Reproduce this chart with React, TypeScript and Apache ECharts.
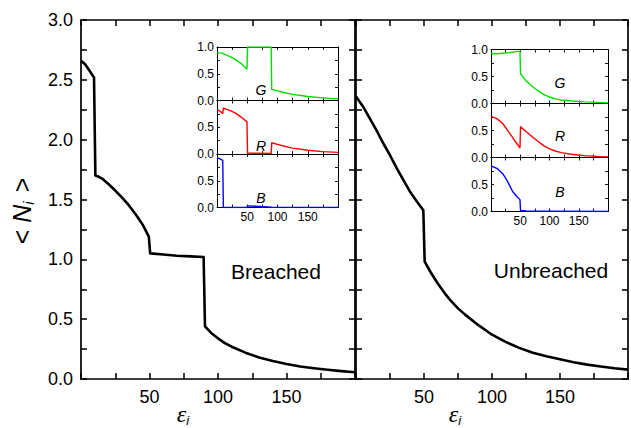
import React, { useEffect, useRef } from "react";
import * as echarts from "echarts";

// ---- data ----
const xTicks = [50, 100, 150];
const panelTitles = ["Breached", "Unbreached"];
const insetLetters = ["G", "R", "B"];

const breachedTotal: [number, number][] = [
  [0, 2.66], [3, 2.63], [6, 2.58], [9.5, 2.52], [10.5, 1.7], [13, 1.69], [16, 1.67], [20, 1.63],
  [25, 1.575], [30, 1.515], [35, 1.45], [40, 1.375], [45, 1.29], [49.5, 1.19], [50.5, 1.05],
  [60, 1.04], [70, 1.03], [80, 1.025], [89.5, 1.02], [90.5, 0.44], [95, 0.385], [100, 0.34],
  [105, 0.3], [110, 0.27], [120, 0.22], [130, 0.18], [140, 0.15], [150, 0.125], [160, 0.105],
  [170, 0.09], [180, 0.077], [190, 0.066], [200, 0.057],
];
const unbreachedTotal: [number, number][] = [
  [0, 2.36], [5, 2.28], [10, 2.18], [15, 2.08], [20, 1.97], [25, 1.87], [30, 1.76],
  [35, 1.66], [40, 1.56], [45, 1.48], [49.5, 1.41], [50.5, 0.98], [55, 0.89], [60, 0.8],
  [65, 0.72], [70, 0.65], [75, 0.59], [80, 0.54], [90, 0.45], [100, 0.37], [110, 0.31],
  [120, 0.26], [130, 0.22], [140, 0.19], [150, 0.165], [160, 0.14], [170, 0.12],
  [180, 0.105], [190, 0.09], [200, 0.078],
];

const breachedG: [number, number][] = [
  [0, 0.89], [9.5, 0.885], [10.5, 0.87], [20, 0.83], [30, 0.77], [40, 0.69], [49.5, 0.59],
  [50.5, 1.0], [89.5, 1.0], [90.5, 0.21], [100, 0.18], [110, 0.15], [125, 0.115],
  [150, 0.075], [175, 0.05], [200, 0.03],
];
const breachedR: [number, number][] = [
  [0, 0.83], [5, 0.8], [9.5, 0.76], [10.5, 0.855], [20, 0.82], [30, 0.77], [40, 0.69],
  [49.5, 0.6], [50.5, 0.02], [60, 0.015], [89.5, 0.01], [90.5, 0.21], [100, 0.18],
  [110, 0.15], [125, 0.11], [150, 0.07], [175, 0.045], [200, 0.03],
];
const breachedB: [number, number][] = [
  [0, 0.93], [5, 0.91], [9.5, 0.88], [10.5, 0.0], [49.5, 0.0], [50.5, 0.03], [70, 0.02],
  [90, 0.005], [200, 0.0],
];
const unbreachedG: [number, number][] = [
  [0, 0.925], [10, 0.92], [20, 0.93], [30, 0.94], [40, 0.955], [49.5, 0.97], [50.5, 0.55],
  [60, 0.42], [70, 0.32], [80, 0.24], [90, 0.17], [100, 0.12], [110, 0.085], [120, 0.065],
  [140, 0.045], [160, 0.03], [180, 0.02], [200, 0.012],
];
const unbreachedR: [number, number][] = [
  [0, 0.76], [10, 0.72], [20, 0.63], [30, 0.48], [40, 0.32], [49.5, 0.18], [50.5, 0.57],
  [60, 0.48], [70, 0.39], [80, 0.3], [90, 0.22], [100, 0.16], [110, 0.12], [120, 0.09],
  [140, 0.055], [160, 0.035], [180, 0.02], [200, 0.012],
];
const unbreachedB: [number, number][] = [
  [0, 0.845], [10, 0.8], [20, 0.7], [25, 0.62], [30, 0.52], [37, 0.37], [45, 0.27],
  [49.5, 0.22], [50.5, 0.02], [60, 0.01], [100, 0.005], [200, 0.0],
];

const FONT = "'Liberation Sans', Arial, sans-serif";

type PanelOpts = {
  showX: boolean;
  showYLabels: boolean;
  yTop: boolean;
  font: number;
  tick: number;
  lw: number;
  yMax: number;
  yInterval: number;
};

function buildAxes(g: number, o: PanelOpts) {
  const line = { show: true, onZero: false, lineStyle: { color: "#000", width: o.lw } };
  const tick = { show: true, inside: true, length: o.tick, lineStyle: { color: "#000", width: o.lw * 0.9 } };
  const xb = {
    type: "value", gridIndex: g, position: "bottom", min: 0, max: 200, interval: 25,
    axisLine: line, axisTick: tick, splitLine: { show: false },
    axisLabel: {
      show: o.showX, fontFamily: FONT, fontSize: o.font, color: "#000", margin: o.font > 14 ? 9 : 3,
      formatter: (v: number) => (xTicks.includes(v) ? String(v) : ""),
    },
  };
  const xt = { ...xb, position: "top", axisLabel: { show: false } };
  const yl = {
    type: "value", gridIndex: g, position: "left", min: 0, max: o.yMax, interval: o.yInterval,
    axisLine: line, axisTick: tick, splitLine: { show: false },
    axisLabel: {
      show: o.showYLabels, fontFamily: FONT, fontSize: o.font, color: "#000", margin: o.font > 14 ? 8 : 3,
      formatter: (v: number) => {
        const r = Math.round(v * 100) / 100;
        if (Math.abs(r * 2 - Math.round(r * 2)) > 1e-6) return "";
        if (!o.yTop && r >= 1) return "";
        return r.toFixed(1);
      },
    },
  };
  const yr = { ...yl, position: "right", axisLabel: { show: false } };
  return { x: [xb, xt], y: [yl, yr] };
}

export default function App() {
  const ref = useRef<HTMLDivElement>(null);
  useEffect(() => {
    document.body.style.margin = "0";
    const chart = echarts.init(ref.current!, null, { renderer: "svg" });

    const grids: any[] = [
      { left: 81, top: 20, width: 274, height: 359 },
      { left: 356, top: 20, width: 276, height: 359 },
      { left: 217, top: 47, width: 121, height: 53.5 },
      { left: 217, top: 100.5, width: 121, height: 53.5 },
      { left: 217, top: 154, width: 121, height: 53.5 },
      { left: 491, top: 49.5, width: 117, height: 54 },
      { left: 491, top: 103.5, width: 117, height: 54 },
      { left: 491, top: 157.5, width: 117, height: 54 },
    ];
    const mainO = (showY: boolean): PanelOpts => ({
      showX: true, showYLabels: showY, yTop: true, font: 18, tick: 6, lw: 1.7, yMax: 3, yInterval: 0.25,
    });
    const insetO = (pos: number): PanelOpts => ({
      showX: pos === 2, showYLabels: true, yTop: pos === 0, font: 12, tick: 3, lw: 1, yMax: 1, yInterval: 0.25,
    });
    const opts: PanelOpts[] = [
      mainO(true), mainO(false),
      insetO(0), insetO(1), insetO(2), insetO(0), insetO(1), insetO(2),
    ];
    const xAxis: any[] = [];
    const yAxis: any[] = [];
    opts.forEach((o, g) => {
      const a = buildAxes(g, o);
      xAxis.push(...a.x);
      yAxis.push(...a.y);
    });

    const colors = ["#00e000", "#ff0000", "#0000ff"];
    const insetData = [breachedG, breachedR, breachedB, unbreachedG, unbreachedR, unbreachedB];
    const series: any[] = [
      { data: breachedTotal, g: 0, color: "#000", w: 2.6 },
      { data: unbreachedTotal, g: 1, color: "#000", w: 2.6 },
      ...insetData.map((d, i) => ({ data: d, g: i + 2, color: colors[i % 3], w: 1.4 })),
    ].map((s) => ({
      type: "line", data: s.data, xAxisIndex: 2 * s.g, yAxisIndex: 2 * s.g,
      showSymbol: false, symbol: "none", silent: true,
      lineStyle: { color: s.color, width: s.w, join: "round" },
    }));

    const graphic: any[] = [
      {
        type: "text", x: 22, y: 211, rotation: Math.PI / 2,
        style: {
          text: "{a|< }{n|N}{s|i}{a| >}", align: "center", verticalAlign: "middle",
          rich: {
            a: { fontFamily: FONT, fontSize: 25, fill: "#000", verticalAlign: "middle" },
            n: { fontFamily: FONT, fontSize: 25, fontStyle: "italic", fill: "#000", verticalAlign: "middle" },
            s: { fontFamily: FONT, fontSize: 15, fontStyle: "italic", fill: "#000", padding: [12, 2, 0, 0] },
          },
        },
      },
      ...[183, 455].map((x) => ({
        type: "text", x, y: 414,
        style: {
          text: "{e|ε}{s|i}", align: "center", verticalAlign: "middle",
          rich: {
            e: { fontFamily: "'Liberation Serif', serif", fontSize: 24, fontStyle: "italic", fill: "#000" },
            s: { fontFamily: FONT, fontSize: 13, fontStyle: "italic", fill: "#000", padding: [12, 0, 0, 0] },
          },
        },
      })),
      ...panelTitles.map((t, i) => ({
        type: "text", x: i === 0 ? 276 : 551, y: i === 0 ? 271 : 270,
        style: { text: t, fontFamily: FONT, fontSize: 21, fill: "#000", align: "center", verticalAlign: "middle" },
      })),
      ...[0, 1].flatMap((k) =>
        insetLetters.map((l, i) => ({
          type: "text",
          x: k === 0 ? 261 : 560,
          y: k === 0 ? [90, 146, 198][i] : [83, 136, 192][i],
          style: { text: l, fontFamily: FONT, fontSize: 14, fontStyle: "italic", fill: "#000", align: "center", verticalAlign: "middle" },
        }))
      ),
    ];

    chart.setOption({
      animation: false,
      backgroundColor: "#fff",
      grid: grids,
      xAxis,
      yAxis,
      series,
      graphic,
    });
    return () => chart.dispose();
  }, []);
  return <div ref={ref} style={{ position: "fixed", left: 0, top: 0, width: 631, height: 428 }} />;
}
